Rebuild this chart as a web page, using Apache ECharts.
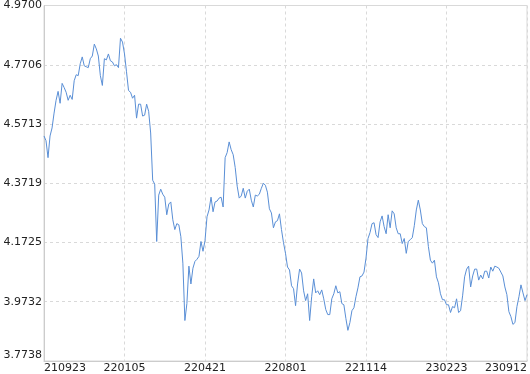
<!DOCTYPE html>
<html>
<head>
<meta charset="utf-8">
<script src="https://cdn.jsdelivr.net/npm/echarts@6/dist/echarts.min.js"></script>
<style>
  html, body { margin: 0; padding: 0; background: #fff; }
  #chart { width: 530px; height: 374px; }
</style>
</head>
<body>
<div id="chart"></div>
<script>
// Tick labels on the x axis (one every STEP points)
const tickLabels = ['210923', '220105', '220421', '220801', '221114', '230223', '230912'];
const STEP = 40;

// Y axis ticks
const yMin = 3.7738;
const yMax = 4.9700;

// Series values
const values = [
  4.531, 4.515, 4.458, 4.531, 4.558, 4.608, 4.651, 4.681, 4.641, 4.708,
  4.694, 4.678, 4.651, 4.668, 4.654, 4.717, 4.737, 4.734, 4.774, 4.797,
  4.767, 4.764, 4.761, 4.791, 4.800, 4.840, 4.824, 4.800, 4.734, 4.701,
  4.791, 4.787, 4.807, 4.784, 4.780, 4.767, 4.771, 4.761, 4.860, 4.847,
  4.807, 4.747, 4.684, 4.678, 4.658, 4.668, 4.591, 4.638, 4.638, 4.598,
  4.601, 4.638, 4.614, 4.541, 4.382, 4.369, 4.176, 4.332, 4.352, 4.335,
  4.325, 4.266, 4.302, 4.309, 4.249, 4.216, 4.236, 4.232, 4.192, 4.103,
  3.910, 3.967, 4.093, 4.033, 4.086, 4.109, 4.116, 4.126, 4.176, 4.143,
  4.179, 4.259, 4.282, 4.325, 4.276, 4.309, 4.312, 4.322, 4.325, 4.292,
  4.458, 4.475, 4.511, 4.485, 4.468, 4.425, 4.362, 4.322, 4.329, 4.355,
  4.322, 4.345, 4.352, 4.315, 4.292, 4.332, 4.329, 4.335, 4.355, 4.372,
  4.365, 4.342, 4.286, 4.272, 4.222, 4.242, 4.246, 4.269, 4.216, 4.172,
  4.136, 4.090, 4.080, 4.027, 4.017, 3.960, 4.033, 4.083, 4.070, 4.010,
  3.977, 4.000, 3.910, 3.990, 4.050, 4.003, 4.010, 3.997, 4.013, 3.983,
  3.947, 3.930, 3.930, 3.983, 4.000, 4.027, 4.003, 4.007, 3.967, 3.963,
  3.917, 3.877, 3.903, 3.943, 3.953, 3.990, 4.020, 4.057, 4.060, 4.073,
  4.120, 4.186, 4.206, 4.236, 4.239, 4.199, 4.189, 4.242, 4.262, 4.226,
  4.202, 4.266, 4.222, 4.279, 4.269, 4.222, 4.202, 4.202, 4.169, 4.186,
  4.136, 4.176, 4.182, 4.189, 4.229, 4.282, 4.315, 4.282, 4.236, 4.226,
  4.222, 4.159, 4.113, 4.103, 4.113, 4.057, 4.037, 4.000, 3.980, 3.980,
  3.963, 3.963, 3.937, 3.957, 3.953, 3.983, 3.937, 3.943, 3.993, 4.057,
  4.083, 4.093, 4.023, 4.060, 4.083, 4.083, 4.046, 4.063, 4.050, 4.076,
  4.076, 4.053, 4.090, 4.076, 4.093, 4.090, 4.086, 4.073, 4.060, 4.023,
  3.997, 3.940, 3.923, 3.897, 3.903, 3.957, 3.990, 4.030, 4.003, 3.977,
  3.997
];

// Categories: labelled points carry the tick label, others an index name
const categories = values.map((_, i) => (i % STEP === 0 && tickLabels[i / STEP]) ? tickLabels[i / STEP] : ('p' + i));

const showTick = (idx) => idx % STEP === 0;

const chart = echarts.init(document.getElementById('chart'), null, { renderer: 'canvas' });
chart.setOption({
  animation: false,
  backgroundColor: '#ffffff',
  grid: {
    left: 44, right: 2, top: 1, bottom: 13,
    show: true, borderColor: '#d9d9d9', borderWidth: 1, backgroundColor: 'transparent'
  },
  xAxis: {
    type: 'category',
    data: categories,
    boundaryGap: false,
    axisLine: { lineStyle: { color: '#cccccc', width: 1 } },
    axisTick: { show: false },
    axisLabel: {
      interval: showTick,
      color: '#222222',
      fontSize: 11,
      fontFamily: 'DejaVu Sans',
      margin: 2,
      alignMinLabel: 'left',
      alignMaxLabel: 'right',
      showMinLabel: true,
      showMaxLabel: true
    },
    splitLine: {
      show: true,
      interval: showTick,
      lineStyle: { type: [3, 3], color: '#d9d9d9', width: 1 }
    }
  },
  yAxis: {
    type: 'value',
    min: yMin,
    max: yMax,
    interval: (yMax - yMin) / 6,
    axisLine: { show: true, lineStyle: { color: '#cccccc', width: 1 } },
    axisTick: { show: false },
    axisLabel: {
      color: '#222222',
      fontSize: 11,
      fontFamily: 'DejaVu Sans',
      margin: 2,
      formatter: (v) => v.toFixed(4),
      verticalAlignMinLabel: 'bottom',
      verticalAlignMaxLabel: 'top'
    },
    splitLine: {
      show: true,
      lineStyle: { type: [3, 3], color: '#d9d9d9', width: 1 }
    }
  },
  series: [{
    type: 'line',
    data: values,
    showSymbol: false,
    symbol: 'none',
    lineStyle: { color: '#5a8fd6', width: 1 },
    itemStyle: { color: '#5a8fd6' }
  }]
});
</script>
</body>
</html>
